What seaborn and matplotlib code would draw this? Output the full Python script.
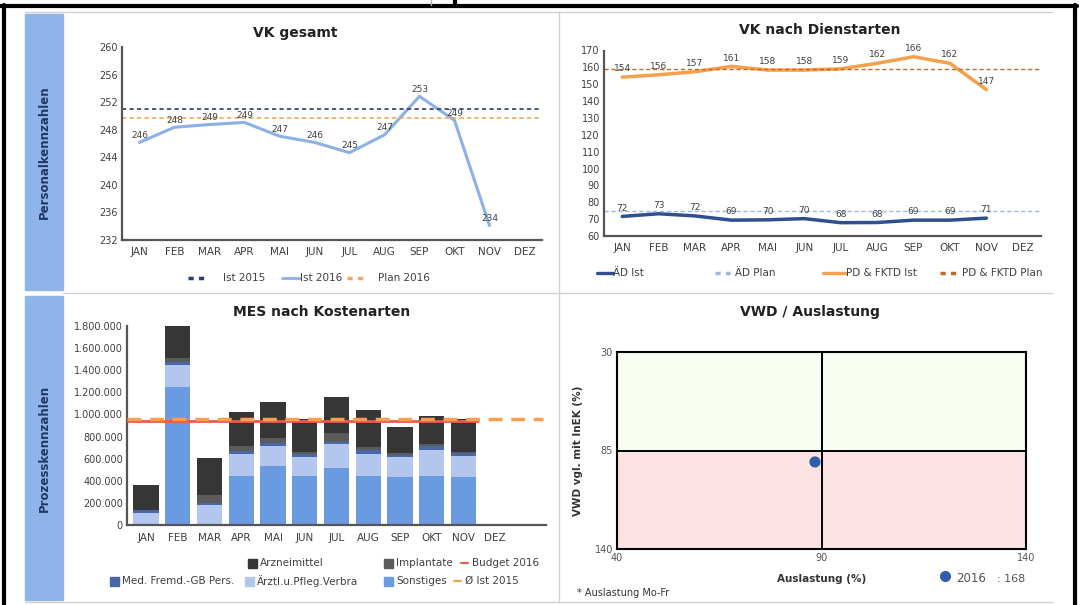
import matplotlib

matplotlib.use("Agg")
import matplotlib.pyplot as plt
import seaborn as sns
import pandas as pd
from matplotlib.lines import Line2D
from matplotlib.patches import Rectangle
from matplotlib.ticker import FuncFormatter

sns.set_theme(style="white")
plt.rcParams["font.family"] = ["DejaVu Sans"]

MONTHS = ["JAN", "FEB", "MAR", "APR", "MAI", "JUN", "JUL", "AUG", "SEP", "OKT", "NOV", "DEZ"]

# VK gesamt
VK_IST_2016 = [246.2, 248.4, 248.8, 249.1, 247.1, 246.2, 244.7, 247.3, 252.9, 249.4, 234.1]
VK_IST_2015 = 251.0
VK_PLAN_2016 = 249.7

# VK nach Dienstarten
AED_IST = [71.6, 73.2, 71.9, 69.4, 69.6, 70.3, 67.9, 68.0, 69.4, 69.4, 70.6]
AED_PLAN = 75.0
PD_IST = [154.2, 155.6, 157.4, 160.6, 158.4, 158.4, 159.1, 162.4, 166.3, 162.4, 146.8]
PD_PLAN = 159.3

# MES nach Kostenarten (stack order bottom -> top)
MES_SONSTIGES = [0, 1246000, 0, 445000, 535000, 445000, 520000, 445000, 430000, 445000, 430000]
MES_AERZTL = [105000, 197000, 178000, 197000, 181000, 166000, 212000, 197000, 181000, 236000, 197000]
MES_MED_FREMD = [30000, 30000, 24000, 30000, 30000, 30000, 15000, 39000, 21000, 30000, 21000]
MES_IMPLANTATE = [5000, 40000, 67000, 45000, 39000, 15000, 85000, 21000, 15000, 21000, 15000]
MES_ARZNEI = [225000, 284000, 333000, 302000, 330000, 302000, 330000, 342000, 242000, 257000, 296000]
MES_BUDGET_2016 = 945000
MES_IST_2015 = 962000

# VWD / Auslastung
VWD_AUSLASTUNG = [88.4]
VWD_INEK = [91.4]
VWD_COUNT = 168

W, H = 1079, 605
TXT = "#404040"


def fx(x):
    return x / W


def fy(y):
    return 1 - y / H


def add_ax(l, t, r, b):
    return fig.add_axes([fx(l), fy(b), (r - l) / W, (b - t) / H])


def hline(x0, x1, y, color="#d0d0d0", lw=1.0):
    fig.add_artist(Line2D([fx(x0), fx(x1)], [fy(y), fy(y)], color=color, lw=lw))


def vline(x, y0, y1, color="#d0d0d0", lw=1.0):
    fig.add_artist(Line2D([fx(x), fx(x)], [fy(y0), fy(y1)], color=color, lw=lw))


def leg_line(x0, x1, y, color, ls, lw, label, tx, size=7.5):
    fig.add_artist(Line2D([fx(x0), fx(x1)], [fy(y), fy(y)], color=color, ls=ls, lw=lw))
    fig.text(fx(tx), fy(y), label, va="center", ha="left", fontsize=size, color=TXT)


def leg_box(x, y, color, label, size=7.5):
    fig.add_artist(Rectangle((fx(x), fy(y + 4.5)), 9 / W, 9 / H, color=color,
                             transform=fig.transFigure))
    fig.text(fx(x + 12), fy(y), label, va="center", ha="left", fontsize=size, color=TXT)


def style_axes(ax, xpad):
    sns.despine(ax=ax)
    for s in ("left", "bottom"):
        ax.spines[s].set_color("#555555")
        ax.spines[s].set_linewidth(1.6)
    ax.tick_params(axis="y", length=0, labelsize=7, colors=TXT, pad=3)
    ax.tick_params(axis="x", length=0, labelsize=7.5, colors=TXT, pad=xpad)
    ax.set_xticks(range(len(MONTHS)))
    ax.set_xticklabels(MONTHS)
    ax.set_xlabel("")
    ax.set_ylabel("")


def point_labels(ax, values, dy):
    for i, v in enumerate(values):
        ax.annotate(f"{round(v)}", (i, v), xytext=(0, dy), textcoords="offset points",
                    ha="center", va="center", fontsize=6.5, color=TXT)


fig = plt.figure(figsize=(W / 100, H / 100), dpi=100)
fig.patch.set_facecolor("white")

# dashboard frame, separators and side bands
hline(25, 1052, 12)
hline(63, 1052, 293)
hline(25, 1052, 602)
vline(559, 12, 602)
band = "#8eb4ea"
fig.add_artist(Rectangle((fx(25), fy(290)), 38 / W, 276 / H, color=band, transform=fig.transFigure))
fig.add_artist(Rectangle((fx(25), fy(600)), 38 / W, 304 / H, color=band, transform=fig.transFigure))
fig.text(fx(44), fy(152), "Personalkennzahlen", rotation=90, ha="center", va="center",
         fontsize=8.5, fontweight="bold", color="#1f3864")
fig.text(fx(44), fy(448), "Prozesskennzahlen", rotation=90, ha="center", va="center",
         fontsize=8.5, fontweight="bold", color="#1f3864")

# outer black border of the screenshot
hline(0, 1077, 6, color="black", lw=3)
vline(3.5, 5, 605, color="black", lw=3)
vline(1075, 5, 605, color="black", lw=3)
vline(455, 0, 6, color="black", lw=3)
vline(431, 0, 5, color="#b0b0b0", lw=1)

x_idx = list(range(len(VK_IST_2016)))

# ---- VK gesamt
ax1 = add_ax(122, 47.5, 542, 240)
sns.lineplot(x=x_idx, y=VK_IST_2016, ax=ax1, color="#8cb0e8", linewidth=2.2)
ax1.axhline(VK_IST_2015, color="#2b3a7a", ls=(0, (2.5, 2)), lw=1.2)
ax1.axhline(VK_PLAN_2016, color="#f5a55a", ls=(0, (2.5, 2)), lw=1.2)
point_labels(ax1, VK_IST_2016, 5)
ax1.set_ylim(232, 260)
ax1.set_yticks(range(232, 261, 4))
ax1.set_xlim(-0.5, 11.5)
style_axes(ax1, 5)
fig.text(fx(295), fy(33), "VK gesamt", ha="center", va="center", fontsize=10, fontweight="bold", color="#222222")
leg_line(188, 207, 278, "#2b3a7a", (0, (1.5, 1.5)), 2.5, "Ist 2015", 223)
leg_line(282, 300, 278, "#8cb0e8", "-", 2, "Ist 2016", 300)
leg_line(347, 363, 278, "#f5a55a", (0, (1.5, 1.5)), 2.5, "Plan 2016", 378)

# ---- VK nach Dienstarten
ax2 = add_ax(604, 50.5, 1041, 236)
sns.lineplot(x=x_idx, y=AED_IST, ax=ax2, color="#2f4f8f", linewidth=2.5)
sns.lineplot(x=x_idx, y=PD_IST, ax=ax2, color="#f5a04a", linewidth=2.5)
ax2.axhline(AED_PLAN, color="#9ab8ea", ls=(0, (3, 2)), lw=1)
ax2.axhline(PD_PLAN, color="#c46a2a", ls=(0, (3, 2)), lw=1)
point_labels(ax2, AED_IST, 6)
point_labels(ax2, PD_IST, 6)
ax2.set_ylim(60, 170)
ax2.set_yticks(range(60, 171, 10))
ax2.set_xlim(-0.5, 11.5)
style_axes(ax2, 5)
fig.text(fx(820), fy(30), "VK nach Dienstarten", ha="center", va="center", fontsize=10, fontweight="bold",
         color="#222222")
leg_line(597, 613, 273, "#2f4f8f", "-", 2.4, "ÄD Ist", 613)
leg_line(715, 730, 273, "#9ab8ea", (0, (1.5, 1.5)), 2.5, "ÄD Plan", 735)
leg_line(823, 846, 273, "#f5a04a", "-", 2.4, "PD & FKTD Ist", 846)
leg_line(940, 957, 273, "#c46a2a", (0, (1.5, 1.5)), 2.5, "PD & FKTD Plan", 962)

# ---- MES nach Kostenarten
stack = {
    "Arzneimittel": MES_ARZNEI,
    "Implantate": MES_IMPLANTATE,
    "Med. Fremd.-GB Pers.": MES_MED_FREMD,
    "Ärztl.u.Pfleg.Verbra": MES_AERZTL,
    "Sonstiges": MES_SONSTIGES,
}
colors = {
    "Arzneimittel": "#363636",
    "Implantate": "#5b5b5b",
    "Med. Fremd.-GB Pers.": "#4767a8",
    "Ärztl.u.Pfleg.Verbra": "#b3c7ee",
    "Sonstiges": "#6a9be0",
}
mes = pd.DataFrame(
    [{"pos": i, "cat": c, "value": v} for c, vals in stack.items() for i, v in enumerate(vals)]
)
ax3 = add_ax(127, 326, 546, 525)
sns.histplot(data=mes, x="pos", weights="value", hue="cat", hue_order=list(stack.keys()),
             multiple="stack", discrete=True, shrink=0.8, palette=colors, alpha=1,
             edgecolor="none", linewidth=0, legend=False, ax=ax3)
n = len(MES_SONSTIGES)
ax3.hlines(MES_BUDGET_2016, -0.6, n - 0.5, color="#f0584a", lw=2, zorder=4)
ax3.hlines(MES_IST_2015, -0.6, 12.5, color="#f8a050", lw=2.5, ls=(0, (4, 2.5)), zorder=5)
ax3.set_ylim(0, 1800000)
ax3.set_yticks(range(0, 1800001, 200000))
ax3.yaxis.set_major_formatter(FuncFormatter(lambda v, p: f"{int(v):,}".replace(",", ".")))
ax3.set_xlim(-0.6, 12.6)
style_axes(ax3, 6)
fig.text(fx(322), fy(312), "MES nach Kostenarten", ha="center", va="center", fontsize=10, fontweight="bold",
         color="#222222")
leg_box(248, 563, colors["Arzneimittel"], "Arzneimittel")
leg_box(384, 563, colors["Implantate"], "Implantate")
leg_line(461, 468, 563, "#f0584a", "-", 1.5, "Budget 2016", 472)
leg_box(110, 581, colors["Med. Fremd.-GB Pers."], "Med. Fremd.-GB Pers.")
leg_box(245, 581, colors["Ärztl.u.Pfleg.Verbra"], "Ärztl.u.Pfleg.Verbra")
leg_box(384, 581, colors["Sonstiges"], "Sonstiges")
leg_line(454, 461, 581, "#f8a050", "-", 1.5, "Ø Ist 2015", 465)

# ---- VWD / Auslastung
ax4 = add_ax(617, 352, 1026, 549)
ax4.axhspan(30, 85, color="#f8fdf1", zorder=0)
ax4.axhspan(85, 140, color="#fde2e3", zorder=0)
ax4.axvline(90, color="black", lw=1.4, zorder=1)
ax4.axhline(85, color="black", lw=1.4, zorder=1)
sns.scatterplot(x=VWD_AUSLASTUNG, y=VWD_INEK, ax=ax4, color="#2f5fa7", s=65, edgecolor="none", zorder=5)
ax4.set_xlim(40, 140)
ax4.set_ylim(140, 30)
ax4.set_xticks([40, 90, 140])
ax4.set_yticks([30, 85, 140])
for s in ax4.spines.values():
    s.set_color("black")
    s.set_linewidth(1.5)
ax4.tick_params(length=0, labelsize=7, colors="#555555", pad=3)
ax4.set_xlabel("Auslastung (%)", fontsize=7.5, fontweight="bold", color="#333333", labelpad=8)
ax4.set_ylabel("VWD vgl. mit InEK (%)", fontsize=7.5, fontweight="bold", color="#333333", labelpad=8)
fig.text(fx(810), fy(312), "VWD / Auslastung", ha="center", va="center", fontsize=10, fontweight="bold",
         color="#222222")
fig.text(fx(577), fy(593), "* Auslastung Mo-Fr", ha="left", va="center", fontsize=7, color="#333333")
fig.add_artist(Line2D([fx(945)], [fy(576)], marker="o", ms=7, color="#2f5fa7", ls="none"))
fig.text(fx(956), fy(579), "2016", ha="left", va="center", fontsize=8.5, color="#555555")
fig.text(fx(997), fy(579), f": {VWD_COUNT}", ha="left", va="center", fontsize=8, color="#555555")

fig.savefig("out.png", dpi=100, facecolor="white")
